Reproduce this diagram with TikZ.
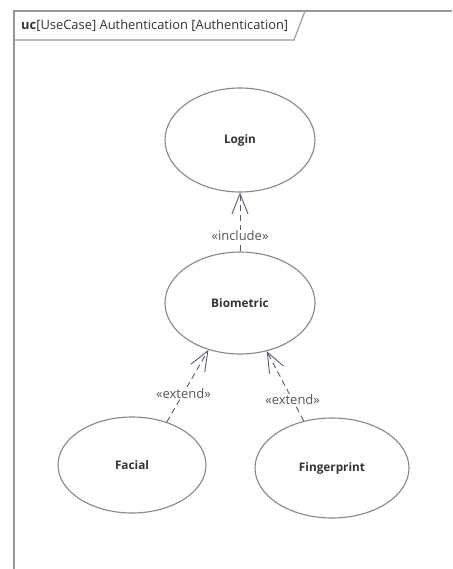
\documentclass[tikz,border=0pt]{standalone}
\usepackage{fontspec}
\setmainfont{Open Sans}
\usetikzlibrary{arrows.meta,shapes.geometric}
\definecolor{framegray}{HTML}{9C9598}
\definecolor{ucline}{HTML}{8E8489}
\definecolor{deptxt}{HTML}{555555}
\definecolor{depline}{HTML}{5A5B70}
\definecolor{uctxt}{HTML}{333333}
\tikzset{
  usecase/.style={ellipse, draw=ucline, line width=1.1pt, inner sep=0pt,
    font=\fontsize{11.8}{14}\selectfont\bfseries, text=uctxt},
  depend/.style={draw=depline, line width=0.9pt, dash pattern=on 6pt off 4pt,
    -{Straight Barb[length=20pt,width=16pt,line width=0.9pt]}},
  stereo/.style={fill=white, inner sep=1pt, text=deptxt,
    font=\fontsize{13}{15}\selectfont},
}
\begin{document}
\begin{tikzpicture}[x=1pt,y=-1pt]
  \useasboundingbox (0,0) rectangle (452,569);
  \fill[white] (0,0) rectangle (452,569);
  % diagram frame with name tab
  \draw[framegray, line width=1.4pt] (14,569) -- (14,11) -- (452,11);
  \draw[framegray, line width=1.1pt] (14,40) -- (294,40) -- (305,11);
  \node[anchor=west, text=uctxt, font=\fontsize{12.9}{15}\selectfont, inner sep=0pt]
    (title) at (21,26) {\textbf{uc}[UseCase] Authentication [Authentication]};
  % use cases
  \node[usecase, minimum width=150pt, minimum height=104pt] (login) at (240,140) {Login};
  \node[usecase, minimum width=150pt, minimum height=102pt] (bio) at (240,303) {Biometric};
  \node[usecase, minimum width=148pt, minimum height=96pt] (facial) at (132,465) {Facial};
  \node[usecase, minimum width=154pt, minimum height=100pt] (finger) at (332,468) {Fingerprint};
  % relationships
  \draw[depend] (bio.90) -- node[stereo, pos=0.27] {«include»} (login.270);
  \draw[depend] (facial.51) -- node[stereo, pos=0.4] {«extend»} (bio.236);
  \draw[depend] (finger.121) -- node[stereo, pos=0.3] {«extend»} (bio.299);
\end{tikzpicture}
\end{document}
